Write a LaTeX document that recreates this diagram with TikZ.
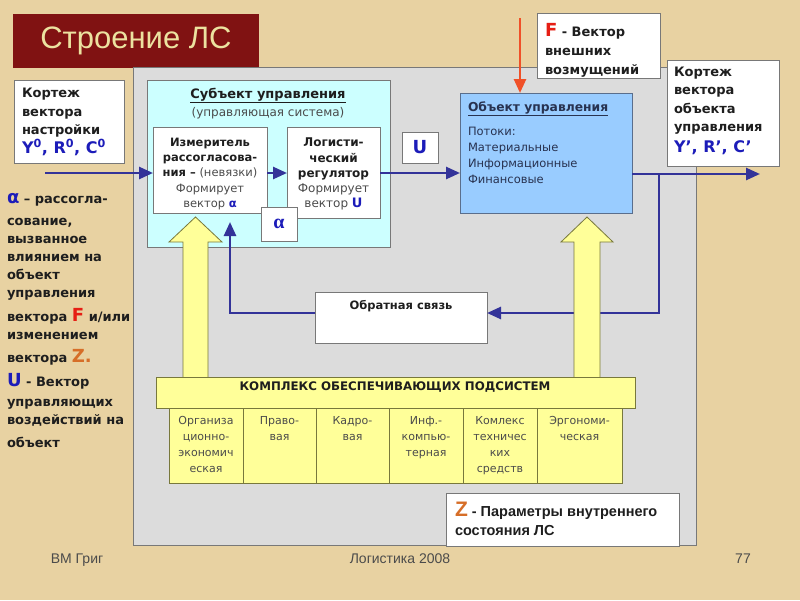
\documentclass[tikz,border=0pt]{standalone}
\usepackage{fontspec}
\setmainfont{DejaVu Sans}
\newfontfamily\lib{Liberation Sans}
\newfontfamily\libser{Liberation Serif}
\usetikzlibrary{arrows.meta}
\definecolor{parch}{RGB}{232,210,162}
\definecolor{titlered}{RGB}{128,18,18}
\definecolor{titletxt}{RGB}{236,226,160}
\definecolor{panel}{RGB}{220,220,220}
\definecolor{panelb}{RGB}{120,120,120}
\definecolor{cyanf}{RGB}{204,255,255}
\definecolor{objf}{RGB}{153,204,255}
\definecolor{objb}{RGB}{90,110,140}
\definecolor{yel}{RGB}{255,255,153}
\definecolor{yelb}{RGB}{120,120,60}
\definecolor{lblue}{RGB}{51,51,153}
\definecolor{tblue}{RGB}{28,28,185}
\definecolor{fred}{RGB}{230,30,20}
\definecolor{zor}{RGB}{214,110,40}
\definecolor{rarr}{RGB}{240,80,40}
\definecolor{tgray}{RGB}{30,30,30}
\definecolor{cgray}{RGB}{75,75,75}
\definecolor{ogray}{RGB}{40,50,80}
\tikzset{
 box/.style={draw=panelb, line width=0.8pt, inner sep=0pt, outer sep=0pt, anchor=north west},
 tx/.style={inner sep=0pt, outer sep=0pt, text=tgray},
 conn/.style={draw=lblue, line width=2.6pt, -{Triangle[length=14pt,width=12pt]}},
 rconn/.style={draw=rarr, line width=2.6pt, -{Triangle[length=14pt,width=12pt]}},
 bigarrow/.style={fill=yel, draw=yelb, line width=0.8pt, line join=miter},
 cell/.style={box, fill=yel, draw=yelb, minimum height=75},
 celltx/.style={tx, anchor=north, align=center, text=cgray, font=\fontsize{11}{16}\selectfont},
}
\begin{document}
\begin{tikzpicture}[x=1pt,y=-1pt]
\useasboundingbox (0,0) rectangle (800,600);
\fill[parch] (0,0) rectangle (800,600);

% title
\node[box, draw=none, fill=titlered, minimum width=246, minimum height=54, text=titletxt, font=\lib\fontsize{31}{33}\selectfont] (title) at (13,14) {Строение ЛС};

% main panel
\node[box, fill=panel, minimum width=563, minimum height=478] (panel) at (133,67) {};

% input vector box
\node[box, fill=white, minimum width=110, minimum height=83] (kin) at (14,80) {};
\node[tx, anchor=north west, align=left, font=\bfseries\fontsize{13}{18.5}\selectfont] (kint) at (22,88.5) {Кортеж\\вектора\\настройки\\{\color{tblue}\fontsize{16}{18.5}\selectfont Y\textsuperscript{0}, R\textsuperscript{0}, C\textsuperscript{0}}};

% left explanation
\node[tx, anchor=north west, align=left, font=\bfseries\fontsize{13}{18}\selectfont] (lp) at (7,193) {%
{\color{tblue}\fontsize{18}{18}\selectfont α} – рассогла-\\[4pt]
сование,\\
вызванное\\
влиянием на\\
объект\\
управления\\[6pt]
вектора {\color{fred}\fontsize{18}{18}\selectfont F} и/или\\
изменением\\[5pt]
вектора {\color{zor}\fontsize{18}{18}\selectfont Z.}\\[6pt]
{\color{tblue}\fontsize{18}{18}\selectfont U} - Вектор\\[2pt]
управляющих\\
воздействий на\\[5pt]
объект};

% subject of control
\node[box, fill=cyanf, minimum width=243, minimum height=167] (subj) at (147,80) {};
\node[tx, anchor=north, align=center, font=\fontsize{12}{18.5}\selectfont] (subjt) at (268,88) {{\bfseries\fontsize{13}{18.5}\selectfont\underline{Субъект управления}}\\{\color{cgray}(управляющая система)}};

% measurer
\node[box, fill=white, minimum width=114, minimum height=86] (meas) at (153,127) {};
\node[tx, anchor=north, align=center, font=\fontsize{11.5}{15.3}\selectfont] (meast) at (210,138) {\textbf{Измеритель}\\\textbf{рассогласова-}\\\textbf{ния –} {\color{cgray}(невязки)}\\{\color{cgray}Формирует}\\{\color{cgray}вектор} {\color{tblue}\bfseries α}};

% regulator
\node[box, fill=white, minimum width=93, minimum height=91] (reg) at (287,127) {};
\node[tx, anchor=north, align=center, font=\fontsize{12}{15.3}\selectfont] (regt) at (333.5,138) {\textbf{Логисти-}\\\textbf{ческий}\\\textbf{регулятор}\\{\color{cgray}Формирует}\\{\color{cgray}вектор} {\color{tblue}\bfseries\fontsize{13}{15}\selectfont U}};

% alpha box
\node[box, fill=white, minimum width=36, minimum height=34, text=tblue, font=\libser\bfseries\fontsize{20}{20}\selectfont] (abox) at (261,207) {α};

% U box
\node[box, fill=white, minimum width=36, minimum height=31, text=tblue, font=\bfseries\fontsize{18}{18}\selectfont] (ubox) at (402,132) {U};

% object of control
\node[box, fill=objf, draw=objb, minimum width=172, minimum height=120] (obj) at (460,93) {};
\node[tx, anchor=north west, align=left, text=ogray, font=\fontsize{11.5}{16}\selectfont] (objt) at (468,101.5) {{\bfseries\fontsize{12.3}{16}\selectfont\underline{Объект управления}}\\[8pt]Потоки:\\Материальные\\Информационные\\Финансовые};

% F box
\node[box, fill=white, minimum width=123, minimum height=65] (fbox) at (537,13) {};
\node[tx, anchor=north west, align=left, font=\bfseries\fontsize{13}{19}\selectfont] (fboxt) at (545,23) {{\color{fred}\fontsize{18}{19}\selectfont F} - Вектор\\внешних\\возмущений};

% output vector box
\node[box, fill=white, minimum width=112, minimum height=106] (kout) at (667,60) {};
\node[tx, anchor=north west, align=left, font=\bfseries\fontsize{13}{18.5}\selectfont] (koutt) at (674,67) {Кортеж\\вектора\\объекта\\управления\\[2pt]{\color{tblue}\fontsize{16}{18.5}\selectfont Y’, R’, C’}};

% feedback
\node[box, fill=white, minimum width=172, minimum height=51] (fb) at (315,292) {};
\node[tx, anchor=north, font=\bfseries\fontsize{11.5}{14}\selectfont] (fbt) at (401,300) {Обратная связь};

% connectors
\coordinate (lvl) at (0,173);
\coordinate (inS) at (45,173);
\coordinate (outE) at (760,174);
\coordinate (tap) at (659,174);
\coordinate (fbl) at (0,313);
\coordinate (fbx) at (230,0);
\coordinate (fS) at (520,18);
\draw[conn] (inS) -- (meas.west |- lvl);
\draw[conn] (meas.east |- lvl) -- (reg.west |- lvl);
\draw[conn] (reg.east |- lvl) -- (obj.west |- lvl);
\draw[conn] (obj.east |- outE) -- (outE);
\draw[conn] (tap) |- (fb.east |- fbl);
\draw[conn, shorten >=9pt] (fb.west |- fbl) -| (meas.south -| fbx);
\draw[rconn] (fS) -- (obj.north -| fS);

% big yellow arrows
\filldraw[bigarrow] (183,377) -- (183,242) -- (169,242) -- (195.5,217) -- (222,242) -- (208,242) -- (208,377);
\filldraw[bigarrow] (574,377) -- (574,242) -- (561,242) -- (587,217) -- (613,242) -- (600,242) -- (600,377);

% complex of supporting subsystems
\node[box, fill=yel, draw=yelb, minimum width=479, minimum height=31] (cx) at (156,377) {};
\node[tx, font=\bfseries\fontsize{11.8}{13}\selectfont] (cxt) at (395,387) {КОМПЛЕКС ОБЕСПЕЧИВАЮЩИХ ПОДСИСТЕМ};
\node[cell, minimum width=74] (c1) at (169,408) {};
\node[cell, minimum width=73] (c2) at (243,408) {};
\node[cell, minimum width=73] (c3) at (316,408) {};
\node[cell, minimum width=74] (c4) at (389,408) {};
\node[cell, minimum width=74] (c5) at (463,408) {};
\node[cell, minimum width=85] (c6) at (537,408) {};
\node[celltx] (c1t) at (c1.north |- 0,416) {Организа\\ционно-\\экономич\\еская};
\node[celltx] (c2t) at (c2.north |- 0,416) {Право-\\вая};
\node[celltx] (c3t) at (c3.north |- 0,416) {Кадро-\\вая};
\node[celltx] (c4t) at (c4.north |- 0,416) {Инф.-\\компью-\\терная};
\node[celltx] (c5t) at (c5.north |- 0,416) {Комлекс\\техничес\\ких\\средств};
\node[celltx] (c6t) at (c6.north |- 0,416) {Эргономи-\\ческая};

% Z box
\node[box, fill=white, minimum width=233, minimum height=53] (zbox) at (446,493) {};
\node[tx, anchor=north west, align=left, font=\lib\bfseries\fontsize{14.5}{19}\selectfont] (zt) at (455,502) {{\color{zor}\fontsize{21}{19}\selectfont Z} - Параметры внутреннего\\состояния ЛС};

% footer
\node[tx, anchor=base, font=\lib\fontsize{14}{16}\selectfont, text=tgray!80] (f1) at (77,563) {ВМ Григ};
\node[tx, anchor=base, font=\lib\fontsize{14}{16}\selectfont, text=tgray!80] (f2) at (400,563) {Логистика 2008};
\node[tx, anchor=base, font=\lib\fontsize{14}{16}\selectfont, text=tgray!80] (f3) at (743,563) {77};
\end{tikzpicture}
\end{document}
